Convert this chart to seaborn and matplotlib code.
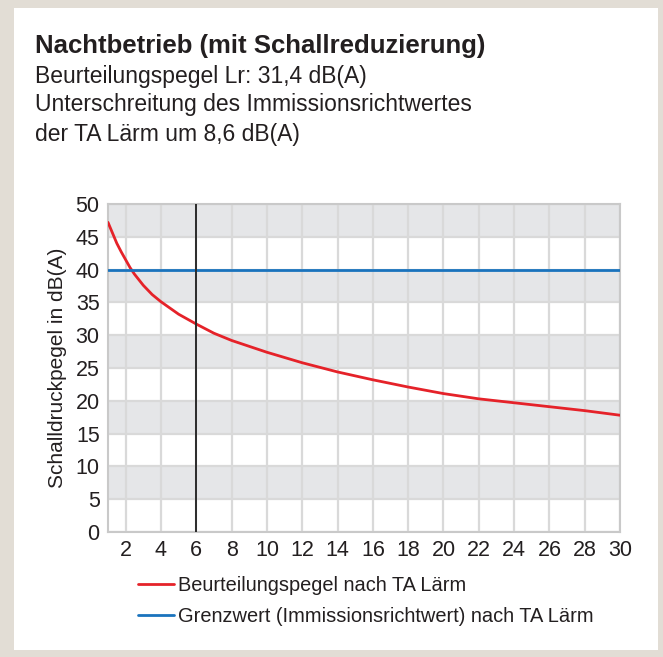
import matplotlib
matplotlib.use("Agg")
import matplotlib.pyplot as plt
import matplotlib.patches as mpatches
import pandas as pd
import seaborn as sns

# distance values and sound level
distance = [1, 1.25, 1.5, 1.75, 2, 2.25, 2.5, 3, 3.5, 4, 5, 6, 7, 8, 10, 12, 14,
            16, 18, 20, 22, 24, 26, 28, 30]
level = [47.2, 45.6, 44.0, 42.7, 41.5, 40.3, 39.3, 37.6, 36.2, 35.1, 33.2, 31.7,
         30.3, 29.2, 27.4, 25.8, 24.4, 23.2, 22.1, 21.1, 20.3, 19.7, 19.1, 18.5, 17.8]
limit_x = [1, 30]
limit_y = [40, 40]
marker_x = 6

title = "Nachtbetrieb (mit Schallreduzierung)"
subtitle = ["Beurteilungspegel Lr: 31,4 dB(A)",
            "Unterschreitung des Immissionsrichtwertes",
            "der TA Lärm um 8,6 dB(A)"]
label_curve = "Beurteilungspegel nach TA Lärm"
label_limit = "Grenzwert (Immissionsrichtwert) nach TA Lärm"
ylabel = "Schalldruckpegel in dB(A)"

sns.set_style("white")
plt.rcParams["font.family"] = ["Liberation Sans", "DejaVu Sans"]
TXT = "#231f20"

fig = plt.figure(figsize=(6.63, 6.57), dpi=100)
fig.patch.set_facecolor("#e2ddd5")
# white card
fig.add_artist(mpatches.Rectangle((14 / 663, 1 - 650 / 657), (658 - 14) / 663, (650 - 8) / 657,
                                  transform=fig.transFigure, facecolor="white",
                                  edgecolor="none", zorder=0))

fig.text(35 / 663, 1 - 46 / 657, title, fontsize=18.5, fontweight="bold", color=TXT,
         va="center", ha="left")
for i, line in enumerate(subtitle):
    fig.text(35 / 663, 1 - (76 + 29 * i) / 657, line, fontsize=16.5, color=TXT,
             va="center", ha="left")

ax = fig.add_axes([108 / 663, 1 - 532 / 657, (620 - 108) / 663, (532 - 204) / 657])
ax.set_facecolor("white")

yticks = list(range(0, 51, 5))
for lo in range(5, 50, 10):
    ax.axhspan(lo, lo + 5, color="#e5e6e8", zorder=0, lw=0)

df_curve = pd.DataFrame({"x": distance, "y": level})
df_limit = pd.DataFrame({"x": limit_x, "y": limit_y})

sns.lineplot(data=df_curve, x="x", y="y", ax=ax, color="#e52229", lw=2.0,
             label=label_curve, zorder=4, legend=False)
sns.lineplot(data=df_limit, x="x", y="y", ax=ax, color="#1a73bd", lw=2.0,
             label=label_limit, zorder=4, legend=False)
ax.axvline(marker_x, color="#2b2b2b", lw=1.4, zorder=5)

ax.set_xlim(1, 30)
ax.set_ylim(0, 50)
ax.set_xticks(list(range(2, 31, 2)))
ax.set_yticks(yticks)
ax.grid(True, color="#d9d9d9", lw=1.6, zorder=1)
ax.set_axisbelow(True)
ax.tick_params(axis="both", length=0, labelsize=15.5, colors=TXT, pad=6)
for s in ax.spines.values():
    s.set_color("#c9c9c9")
    s.set_linewidth(1.5)
ax.set_xlabel("")
ax.set_ylabel(ylabel, fontsize=15, color=TXT, labelpad=6)

handles, labels = ax.get_legend_handles_labels()
fig.legend(handles, labels, loc="upper left", bbox_to_anchor=(138 / 663, 1 - 576 / 657),
           frameon=False, fontsize=14.4, handlelength=1.8, handletextpad=0.2,
           labelspacing=0.6, borderpad=0, borderaxespad=0, labelcolor=TXT)

fig.savefig("out.png", dpi=100, facecolor=fig.get_facecolor())
